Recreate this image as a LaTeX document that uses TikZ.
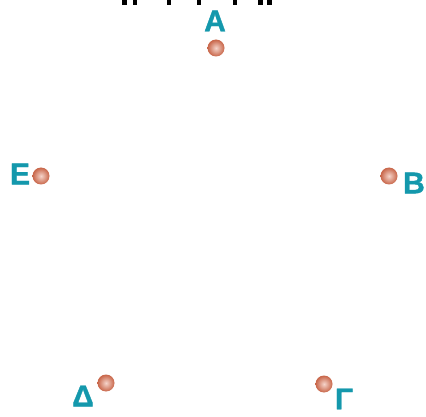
\documentclass[tikz,border=0pt]{standalone}
\usepackage{fontspec}
\setmainfont{Liberation Sans}
\newfontfamily\labelfont[FakeBold=1.2]{Liberation Sans Bold}
\definecolor{labelteal}{RGB}{20,152,172}
\definecolor{dotsalmon}{RGB}{222,112,80}
\begin{document}
\begin{tikzpicture}[
  x=1pt, y=-1pt,
  point/.style={
    circle, inner sep=0pt, minimum size=17pt,
    shading=radial, inner color=dotsalmon!30, outer color=dotsalmon!90!black
  },
  letter/.style={
    text=labelteal, inner sep=0pt,
    font=\fontsize{30}{30}\labelfont
  },
]

\useasboundingbox (0,0) rectangle (426,417);

% cut-off title at the top
\foreach \xa/\xb in {122/127, 133/137, 167/171, 197/201, 233/237, 258/263, 267/272}
  \fill[black] (\xa,0) rectangle (\xb,5);

\node[point] (a) at (216, 48) {};
\node[letter] (la) at (215, 21) {Α};

\node[point] (b) at (389, 176) {};
\node[letter] (lb) at (414, 183) {Β};

\node[point] (g) at (324, 384) {};
\node[letter] (lg) at (344, 399) {Γ};

\node[point] (d) at (106, 383) {};
\node[letter] (ld) at (83, 396) {Δ};

\node[point] (e) at (41, 176) {};
\node[letter] (le) at (20, 174) {Ε};

\end{tikzpicture}
\end{document}
